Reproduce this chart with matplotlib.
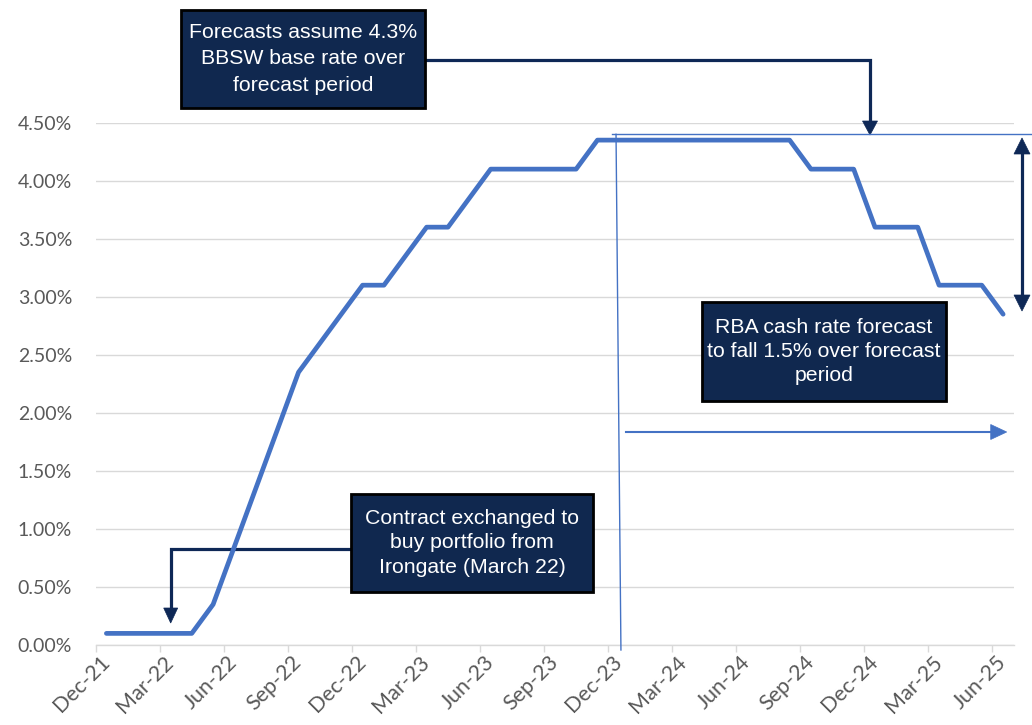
import matplotlib
matplotlib.use("Agg")
import matplotlib.pyplot as plt
from matplotlib.patches import Rectangle, Polygon
from matplotlib.lines import Line2D
from matplotlib.ticker import FixedLocator, FuncFormatter

# Monthly BBSW base rate path (%), Dec-21 .. Jun-25
months = ["Dec-21", "Jan-22", "Feb-22", "Mar-22", "Apr-22", "May-22", "Jun-22",
          "Jul-22", "Aug-22", "Sep-22", "Oct-22", "Nov-22", "Dec-22", "Jan-23",
          "Feb-23", "Mar-23", "Apr-23", "May-23", "Jun-23", "Jul-23", "Aug-23",
          "Sep-23", "Oct-23", "Nov-23", "Dec-23", "Jan-24", "Feb-24", "Mar-24",
          "Apr-24", "May-24", "Jun-24", "Jul-24", "Aug-24", "Sep-24", "Oct-24",
          "Nov-24", "Dec-24", "Jan-25", "Feb-25", "Mar-25", "Apr-25", "May-25",
          "Jun-25"]
rate = [0.10, 0.10, 0.10, 0.10, 0.10, 0.35, 0.85, 1.35, 1.85, 2.35,
        2.60, 2.85, 3.10, 3.10, 3.35, 3.60, 3.60, 3.85, 4.10, 4.10,
        4.10, 4.10, 4.10, 4.35, 4.35, 4.35, 4.35, 4.35, 4.35, 4.35,
        4.35, 4.35, 4.35, 4.10, 4.10, 4.10, 3.60, 3.60, 3.60, 3.10,
        3.10, 3.10, 2.85]
quarter_labels = months[::3]
y_ticks = [0.0, 0.5, 1.0, 1.5, 2.0, 2.5, 3.0, 3.5, 4.0, 4.5]
base_rate_marker = 4.40      # level of the thin reference line at the top

W, H = 1032, 725
LINE_BLUE = "#4472C4"
NAVY = "#10284F"
ARROW_NAVY = "#0E2856"
GRID = "#D9D9D9"
LABEL = "#595959"

fig = plt.figure(figsize=(W / 100, H / 100), dpi=100)
ax = fig.add_axes([95.7 / W, 80 / H, (1013.8 - 95.7) / W, (645 - 122.7) / H])

x = list(range(len(rate)))
ax.plot(x, rate, color=LINE_BLUE, lw=3.4, solid_joinstyle="round",
        solid_capstyle="round", zorder=4, clip_on=False)

ax.set_xlim(-0.5, len(rate) - 0.5)
ax.set_ylim(y_ticks[0], y_ticks[-1])

# y axis
ax.set_yticks(y_ticks)
ax.yaxis.set_major_formatter(FuncFormatter(lambda v, p: f"{v:.2f}%"))
ax.tick_params(axis="y", length=0, pad=17, labelsize=14, labelcolor=LABEL)
ax.grid(axis="y", color=GRID, lw=1.0, zorder=0)
ax.set_axisbelow(True)

# x axis: labels at quarter months, tick marks at category boundaries
ax.set_xticks(x[::3])
ax.set_xticklabels(quarter_labels)
ax.xaxis.set_minor_locator(FixedLocator([i - 0.5 for i in x[::3]]))
ax.tick_params(axis="x", which="major", length=0, pad=10, labelsize=15.5,
               labelcolor=LABEL)
ax.tick_params(axis="x", which="minor", length=5, width=1.0, color=GRID,
               direction="out")
for lbl in ax.get_xticklabels():
    lbl.set_rotation(45)
    lbl.set_ha("right")
    lbl.set_va("center")
    lbl.set_rotation_mode("anchor")
    lbl.set_fontfamily("Lato")
for lbl in ax.get_yticklabels():
    lbl.set_fontfamily("Lato")

for side in ("top", "right", "left"):
    ax.spines[side].set_visible(False)
ax.spines["bottom"].set_color(GRID)
ax.spines["bottom"].set_linewidth(1.0)

# forecast period markers (data coordinates)
ax.add_line(Line2D([23.87, 24.1], [base_rate_marker, -0.043], color=LINE_BLUE,
                   lw=1.0, zorder=5, clip_on=False))
ax.add_line(Line2D([23.7, 43.5], [base_rate_marker, base_rate_marker],
                   color=LINE_BLUE, lw=1.0, zorder=5, clip_on=False))

tf = fig.transFigure


def P(px, py):
    return px / W, 1 - py / H


def seg(points, color, lw, z):
    xs = [P(a, b)[0] for a, b in points]
    ys = [P(a, b)[1] for a, b in points]
    ax.add_line(Line2D(xs, ys, color=color, lw=lw, transform=tf,
                       zorder=z, clip_on=False, solid_joinstyle="miter"))


def head(tip, direction, length, width, color, z):
    tx, ty = tip
    dx, dy = direction
    bx, by = tx - dx * length, ty - dy * length
    nx, ny = -dy, dx
    pts = [P(tx, ty), P(bx + nx * width / 2, by + ny * width / 2),
           P(bx - nx * width / 2, by - ny * width / 2)]
    ax.add_patch(Polygon(pts, closed=True, fc=color, ec=color, lw=0.5,
                         transform=tf, zorder=z, clip_on=False))


def box(x0, y0, x1, y1, text, spacing):
    (fx0, fy1), (fx1, fy0) = P(x0, y0), P(x1, y1)
    ax.add_patch(Rectangle((fx0, fy0), fx1 - fx0, fy1 - fy0, fc=NAVY,
                           ec="black", lw=2.0, transform=tf, zorder=10,
                           clip_on=False))
    ax.text((fx0 + fx1) / 2, (fy0 + fy1) / 2, text, transform=tf,
            ha="center", va="center", color="white", fontsize=15.3,
            family="Liberation Sans", linespacing=spacing, zorder=11,
            clip_on=False)


# base-rate assumption callout
box(181, 10, 425, 108, "Forecasts assume 4.3%\nBBSW base rate over\nforecast period", 1.48)
seg([(425, 60), (870, 60), (870, 122)], ARROW_NAVY, 2.3, 3)
head((870, 135), (0, 1), 14, 15, ARROW_NAVY, 3)

# RBA forecast callout
box(702, 302, 946, 401, "RBA cash rate forecast\nto fall 1.5% over forecast\nperiod", 1.33)
seg([(626, 432), (992, 432)], LINE_BLUE, 1.5, 6)
head((1006.7, 432), (1, 0), 16, 15, LINE_BLUE, 6)

# size of the expected fall
seg([(1022, 152), (1022, 297)], ARROW_NAVY, 2.3, 6)
head((1022, 138), (0, -1), 16, 16, ARROW_NAVY, 6)
head((1022, 311), (0, 1), 16, 16, ARROW_NAVY, 6)

# acquisition callout
box(351, 494, 593, 592, "Contract exchanged to\nbuy portfolio from\nIrongate (March 22)", 1.38)
seg([(351, 549), (170.7, 549), (170.7, 610)], ARROW_NAVY, 2.3, 3)
head((170.7, 623), (0, 1), 15, 14, ARROW_NAVY, 3)

fig.savefig("out.png", dpi=100)
